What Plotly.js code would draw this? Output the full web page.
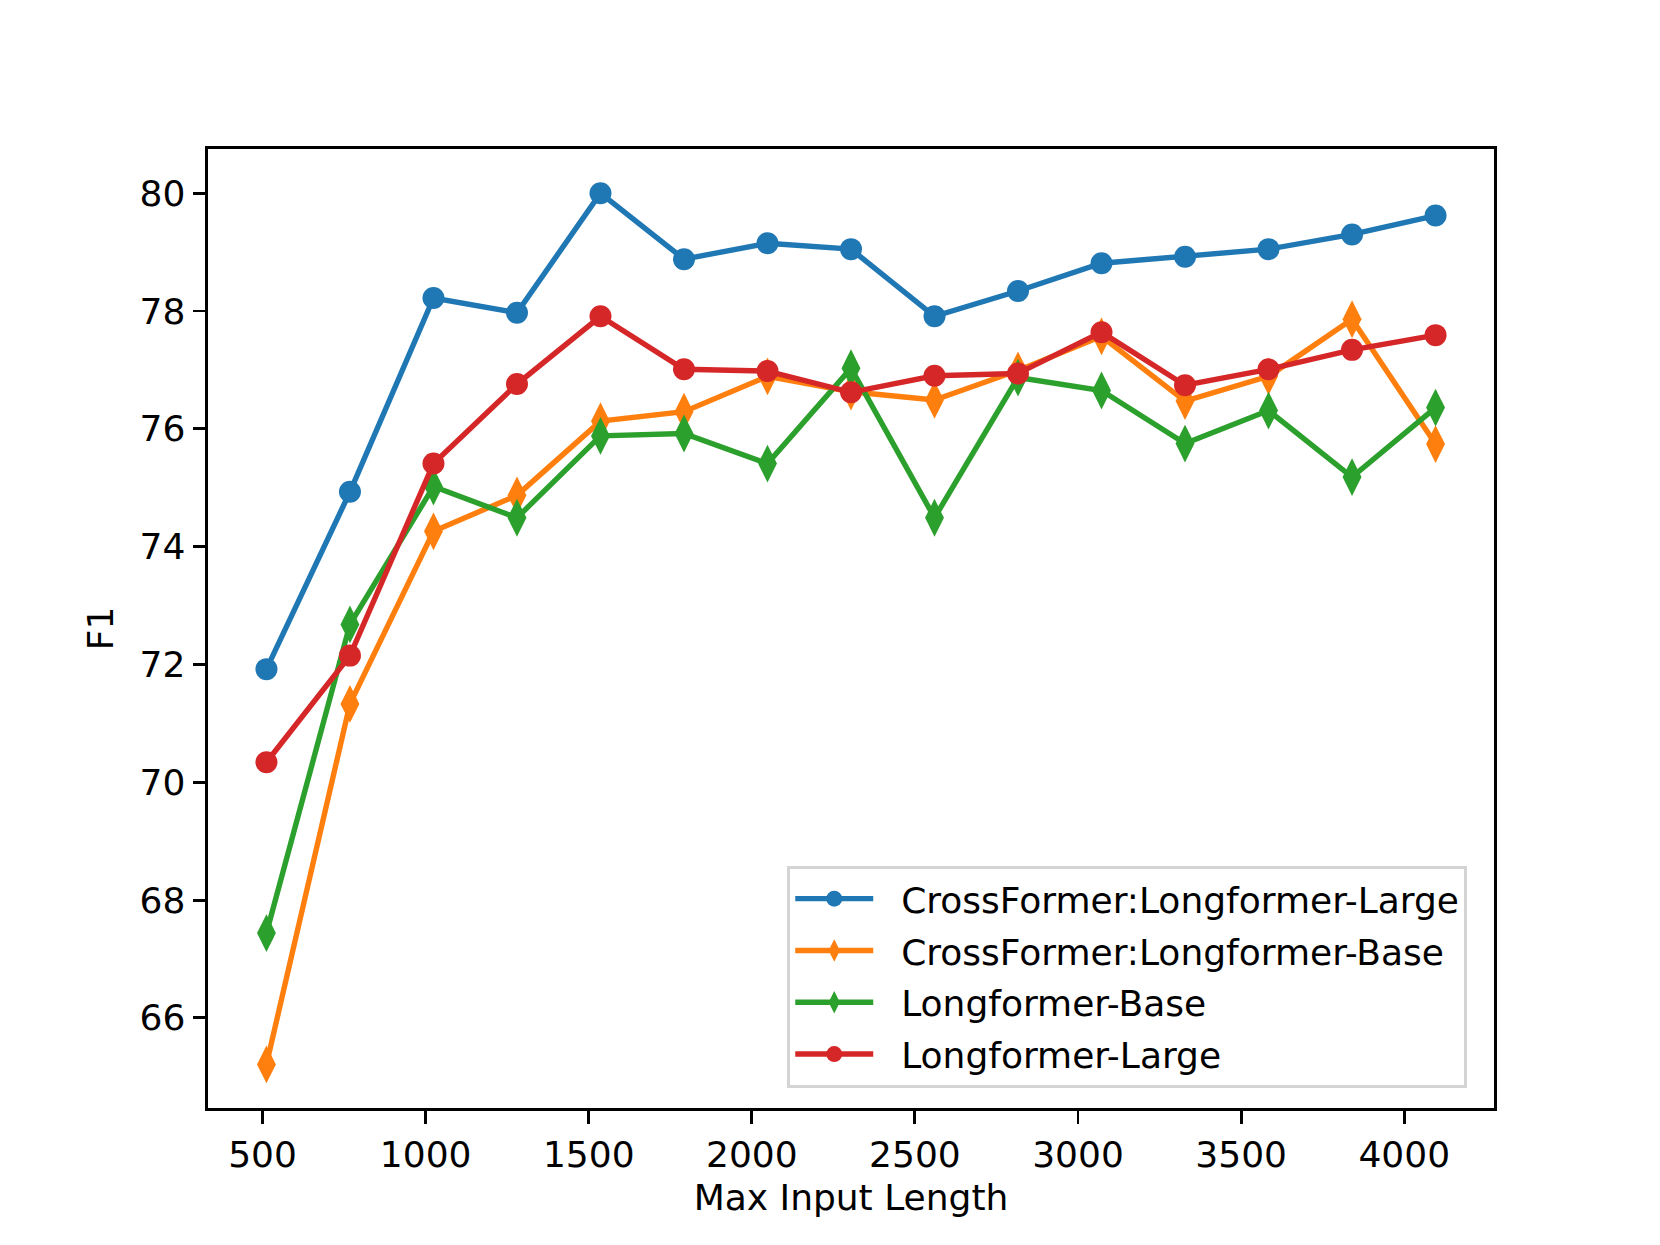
<!DOCTYPE html>
<html>
<head>
<meta charset="utf-8">
<script src="https://cdn.plot.ly/plotly-3.0.1.min.js"></script>
<style>html,body{margin:0;padding:0;background:#fff;}#chart{width:1660px;height:1245px;}</style>
</head>
<body>
<div id="chart"></div>
<script>
const maxInputLength = [512, 768, 1024, 1280, 1536, 1792, 2048, 2304, 2560, 2816, 3072, 3328, 3584, 3840, 4096];
const crossLarge = [71.92, 74.93, 78.22, 77.97, 80.00, 78.88, 79.15, 79.05, 77.91, 78.34, 78.81, 78.92, 79.05, 79.30, 79.62];
const crossBase  = [65.21, 71.33, 74.26, 74.87, 76.13, 76.29, 76.89, 76.63, 76.49, 76.99, 77.57, 76.47, 76.89, 77.86, 75.74];
const longBase   = [67.44, 72.68, 75.02, 74.49, 75.88, 75.92, 75.41, 77.03, 74.49, 76.87, 76.65, 75.75, 76.31, 75.18, 76.36];
const longLarge  = [70.34, 72.15, 75.41, 76.76, 77.91, 77.01, 76.98, 76.62, 76.90, 76.94, 77.64, 76.74, 77.01, 77.34, 77.59];
const seriesNames = ["CrossFormer:Longformer-Large", "CrossFormer:Longformer-Base", "Longformer-Base", "Longformer-Large"];
const xTicks = [500, 1000, 1500, 2000, 2500, 3000, 3500, 4000];
const yTicks = [66, 68, 70, 72, 74, 76, 78, 80];

const colors = ["#1f77b4", "#ff7f0e", "#2ca02c", "#d62728"];
const symbols = ["circle", "diamond-tall", "diamond-tall", "circle"];
const sizes = [22, 27, 27, 22];
const ys = [crossLarge, crossBase, longBase, longLarge];

const traces = ys.map((y, i) => ({
  x: maxInputLength, y: y, name: "\u00a0\u00a0" + seriesNames[i], type: "scatter", mode: "lines+markers",
  legendgroup: "g" + i,
  line: {color: colors[i], width: 5.4},
  marker: {color: colors[i], symbol: symbols[i], size: sizes[i], line: {width: 0}}
}));

const font = {family: "DejaVu Sans, sans-serif", size: 36, color: "#000"};
const layout = {
  width: 1660, height: 1245,
  margin: {l: 207.5, r: 166, t: 149, b: 137, pad: 0},
  paper_bgcolor: "#fff", plot_bgcolor: "#fff",
  font: font,
  showlegend: true,
  xaxis: {
    range: [332.8, 4275.2], tickvals: xTicks, ticktext: xTicks.map(String),
    showgrid: false, zeroline: false, showline: true, mirror: true,
    linecolor: "#000", linewidth: 2.9, ticks: "outside", ticklen: 12.6, tickwidth: 2.9, tickcolor: "#000",
    tickfont: font,
    title: {text: "Max Input Length", font: font, standoff: 12}
  },
  yaxis: {
    range: [64.47, 80.75], tickvals: yTicks, ticktext: yTicks.map(String),
    showgrid: false, zeroline: false, showline: true, mirror: true,
    linecolor: "#000", linewidth: 2.9, ticks: "outside", ticklen: 12.6, tickwidth: 2.9, tickcolor: "#000",
    tickfont: font,
    title: {text: "F1", font: font, standoff: 15}
  },
  legend: {
    x: 0.4505, y: 0.021, xanchor: "left", yanchor: "bottom",
    bgcolor: "rgba(255,255,255,0.8)", bordercolor: "#d4d4d4", borderwidth: 2.9,
    font: font, itemwidth: 78, traceorder: "grouped", tracegroupgap: 2
  }
};
Plotly.newPlot("chart", traces, layout, {staticPlot: true});
</script>
</body>
</html>
